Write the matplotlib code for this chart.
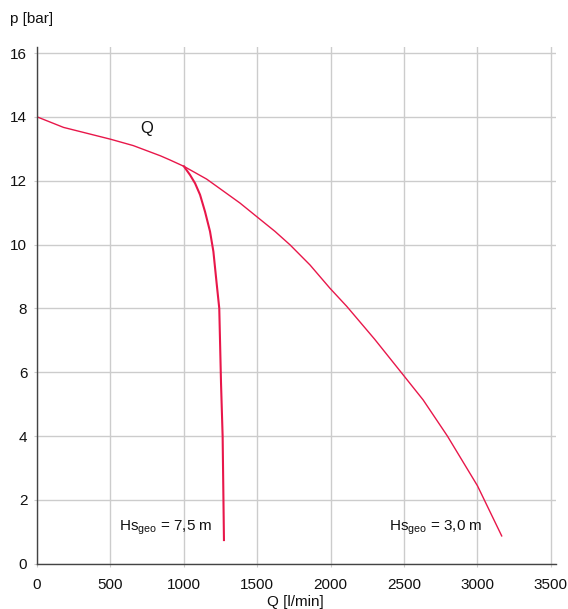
import matplotlib.pyplot as plt

# pump curve Q (l/min) vs p (bar)
q_main = [0, 180, 500, 655, 840, 905, 1000, 1155, 1246, 1382, 1500, 1621, 1723, 1859, 1995, 2110, 2300, 2500, 2630, 2795, 3000, 3165]
p_main = [14.0, 13.67, 13.3, 13.1, 12.78, 12.65, 12.45, 12.05, 11.75, 11.3, 10.86, 10.41, 9.99, 9.36, 8.63, 8.06, 7.03, 5.88, 5.13, 4.0, 2.44, 0.87]

# Hs_geo = 7,5 m branch
q_branch = [1000, 1042, 1076, 1110, 1144, 1178, 1201, 1223, 1241, 1253, 1264, 1273]
p_branch = [12.45, 12.18, 11.92, 11.56, 11.03, 10.41, 9.78, 8.79, 8.0, 5.65, 3.98, 0.74]

x_ticks = [0, 500, 1000, 1500, 2000, 2500, 3000, 3500]
y_ticks = [0, 2, 4, 6, 8, 10, 12, 14, 16]

plt.rcParams['font.family'] = ['Liberation Sans', 'DejaVu Sans']
plt.rcParams['font.size'] = 11

fig = plt.figure(figsize=(5.68, 6.09), dpi=100)
ax = fig.add_axes([0.0653, 0.0744, 0.9136, 0.849])

red = '#e8174a'
ax.plot(q_main, p_main, color=red, lw=1.0)
ax.plot(q_branch, p_branch, color=red, lw=1.5)

ax.set_xlim(0, 3535)
ax.set_ylim(0, 16.2)
ax.set_xticks(x_ticks)
ax.set_yticks(y_ticks)
ax.grid(True, color='#cccccc', lw=1)
ax.set_axisbelow(True)
for s in ['top', 'right']:
    ax.spines[s].set_visible(False)
for s in ['left', 'bottom']:
    ax.spines[s].set_color('#444444')
    ax.spines[s].set_linewidth(1)
ax.tick_params(length=2, color='#cccccc', labelcolor='#111111')
ax.tick_params(axis='x', pad=8)
ax.tick_params(axis='y', pad=5)

ax.text(700, 13.5, 'Q', fontsize=12, color='#111111')
ax.text(560, 1.05, r'Hs$_{\mathregular{geo}}$ = 7,5 m', fontsize=11, color='#111111')
ax.text(2400, 1.05, r'Hs$_{\mathregular{geo}}$ = 3,0 m', fontsize=11, color='#111111')

fig.text(10 / 568, 1 - 19 / 609, 'p [bar]', fontsize=11, va='center', color='#111111')
fig.text(295 / 568, 1 - 602 / 609, 'Q [l/min]', fontsize=11, ha='center', va='center', color='#111111')

fig.savefig('out.png', dpi=100)
